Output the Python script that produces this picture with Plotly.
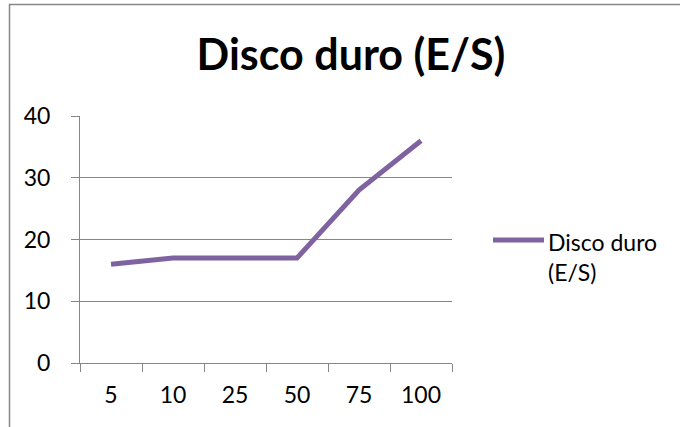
import plotly.graph_objects as go

# Hard-disk I/O readings per load level
categories = ["5", "10", "25", "50", "75", "100"]
values = [16, 17, 17, 17, 28, 36]
series_name = "Disco duro (E/S)"
y_ticks = [0, 10, 20, 30, 40]

purple = "#7F63A1"
axis_grey = "#868686"
font_family = "Lato, 'Open Sans', sans-serif"

fig = go.Figure()
fig.add_trace(go.Scatter(
    x=categories, y=values, mode="lines", name=series_name,
    line=dict(color=purple, width=5), showlegend=False,
))

# plot area geometry in pixels
W, H = 680, 427
L, R, T, B = 80, 228, 116, 64
pw, ph = W - L - R, H - T - B

def px(x):
    return (x - L) / pw

def py(y):
    return (H - B - y) / ph

fig.update_layout(
    width=W, height=H,
    margin=dict(l=L, r=R, t=T, b=B),
    paper_bgcolor="white", plot_bgcolor="white",
    showlegend=False,
    font=dict(family=font_family, size=23, color="black"),
    title=dict(text="<b>" + series_name + "</b>", x=px(351), xref="paper",
               xanchor="center", y=1 - 55 / H, yanchor="middle",
               font=dict(size=43, family=font_family, color="black")),
    xaxis=dict(type="category", range=[-0.5, 5.5], tickson="boundaries",
               ticks="outside", ticklen=8, tickcolor=axis_grey, tickwidth=1,
               showline=True, linecolor=axis_grey, linewidth=1,
               showgrid=False, zeroline=False, ticklabelstandoff=11,
               tickfont=dict(size=23)),
    yaxis=dict(range=[0, 40], tickvals=y_ticks, ticks="outside", ticklen=8,
               tickcolor=axis_grey, tickwidth=1, showline=True,
               linecolor=axis_grey, linewidth=1, showgrid=True,
               gridcolor=axis_grey, gridwidth=1, zeroline=False,
               ticklabelstandoff=16, tickfont=dict(size=23)),
)

# legend drawn beside the plot: line sample and two-line label
fig.add_shape(type="line", xref="paper", yref="paper",
              x0=px(493), x1=px(544), y0=py(240), y1=py(240),
              line=dict(color=purple, width=5))
fig.add_annotation(xref="paper", yref="paper", x=px(546), y=py(240),
                   text="Disco duro<br>(E/S)", showarrow=False,
                   xanchor="left", yanchor="middle", align="left",
                   yshift=-17, font=dict(size=23))

# chart frame: only its top and left edges fall inside the page
fig.add_shape(type="rect", xref="paper", yref="paper",
              x0=px(9.5), x1=px(720), y0=py(4.5), y1=py(470),
              line=dict(color=axis_grey, width=1.5), fillcolor="rgba(0,0,0,0)",
              layer="below")

fig.write_html(
    "out.html",
    config={"displayModeBar": False},
    post_script="document.body.style.margin='0';document.body.style.overflow='hidden';",
)
